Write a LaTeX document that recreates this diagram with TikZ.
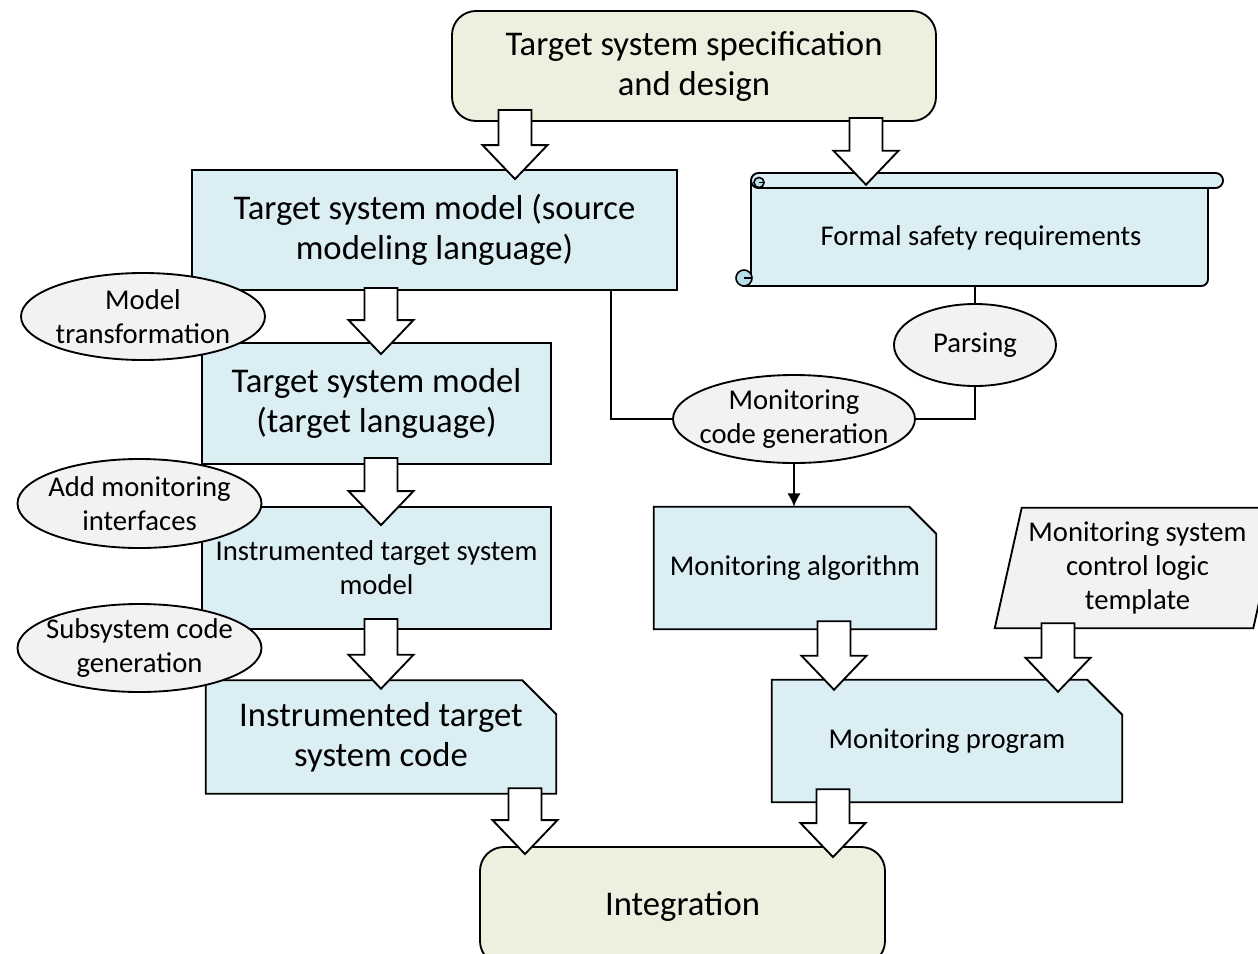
\documentclass[tikz,border=0pt]{standalone}
\usepackage{fontspec}
\setmainfont{Carlito}
\usetikzlibrary{shapes.geometric,calc,arrows.meta}
\pgfdeclarelayer{bg}
\pgfsetlayers{bg,main}
\definecolor{greenfill}{HTML}{EBF1DE}
\definecolor{bluefill}{HTML}{DAEEF3}
\definecolor{grayfill}{HTML}{F2F2F2}
\definecolor{curlfill}{HTML}{B7DDE8}
\newcommand\pu{0.75pt}
\newcommand\bigtxt{\fontsize{26pt}{30pt}\selectfont}
\newcommand\midtxt{\fontsize{21.5pt}{25.5pt}\selectfont}
% hollow block arrow pointing down
% #1 x position, #2 source node, #3 tail depth inside source,
% #4 target node, #5 tip depth inside target
\newcommand\blockarrow[5]{%
  \draw[barrow] let \p1=(#2.south), \p2=(#4.north), \p3=(#1,0),
      \n1={\y1+(#3)*\pu}, \n2={\y2-(#5)*\pu}, \n3={\y2-(#5)*\pu+34*\pu} in
    ({\x3-16.5*\pu},\n1) -- ({\x3+16.5*\pu},\n1)
    -- ({\x3+16.5*\pu},\n3) -- ({\x3+32.5*\pu},\n3)
    -- (\x3,\n2) -- ({\x3-32.5*\pu},\n3)
    -- ({\x3-16.5*\pu},\n3) -- cycle;}
\begin{document}
\begin{tikzpicture}[x=0.75pt, y=-0.75pt,
  outline/.style={line width=1.4pt, draw=black},
  greenbox/.style={outline, fill=greenfill, rounded corners=18pt, inner sep=0pt, align=center},
  bluebox/.style={outline, fill=bluefill, inner sep=0pt, align=center},
  textbox/.style={inner sep=0pt, align=center},
  procell/.style={ellipse, outline, fill=grayfill, inner sep=0pt},
  midlabel/.style={font=\midtxt, align=center, inner sep=0pt},
  conn/.style={line width=1.4pt},
  barrow/.style={outline, fill=white, line join=miter},
  curl/.style={line width=1.2pt, fill=curlfill}]
\useasboundingbox (0,0) rectangle (1258,954);

% process boxes
\node[greenbox, minimum width=484*\pu, minimum height=110*\pu, font=\bigtxt]
  (spec) at (694,66) {Target system specification\\and design};
\node[bluebox, minimum width=485*\pu, minimum height=120*\pu, font=\bigtxt]
  (srcmodel) at (434.5,230) {Target system model (source\\modeling language)};
\node[bluebox, minimum width=349*\pu, minimum height=121*\pu, font=\bigtxt]
  (tgtmodel) at (376.5,403.5) {Target system model\\(target language)};
\node[bluebox, minimum width=349*\pu, minimum height=122*\pu, font=\midtxt]
  (instmodel) at (376.5,568) {Instrumented target system\\model};
\node[textbox, minimum width=350*\pu, minimum height=113*\pu, font=\bigtxt]
  (instcode) at (381,737) {Instrumented target\\system code};
\node[textbox, minimum width=282*\pu, minimum height=122*\pu, font=\midtxt]
  (malg) at (795,568) {Monitoring algorithm};
\node[textbox, minimum width=350*\pu, minimum height=122*\pu, font=\midtxt]
  (mprog) at (947,741) {Monitoring program};
\node[textbox, minimum width=258*\pu, minimum height=120*\pu, font=\midtxt]
  (tmpl) at (1137.5,568) {Monitoring system\\control logic\\template};
\node[textbox, minimum width=458*\pu, minimum height=99*\pu, font=\midtxt]
  (fsr) at (981,237.5) {Formal safety requirements};
\node[greenbox, minimum width=405*\pu, minimum height=118*\pu, font=\bigtxt]
  (integ) at (682.5,906) {Integration};

% shapes drawn behind their texts
\begin{pgfonlayer}{bg}
  % scroll
  \draw[outline, fill=bluefill] (751,181) -- (751,278) -- (744,286)
    [rounded corners=5pt] -- (1208,286) -- (1208,181);
  \draw[outline, fill=bluefill, rounded corners=5.6pt] (751,173) rectangle (1223,188);
  \draw[curl] (759,182.5) circle[radius=3.8pt];
  \draw[line width=1.2pt] (759,182.5) -- (764,182.5);
  \draw[curl] (744,278) circle[radius=6pt];
  \draw[line width=1.2pt] (744,278) -- (751,278);
  % documents with a cut corner
  \foreach \n/\c in {instcode/34, malg/27, mprog/35}
    \draw[outline, fill=bluefill] (\n.south west) -- (\n.north west)
      -- ([xshift=-\c*\pu]\n.north east) -- ([yshift=-\c*\pu]\n.north east)
      -- (\n.south east) -- cycle;
  % template input
  \draw[outline, fill=grayfill] ([xshift=13.5*\pu]tmpl.north west)
    -- ([xshift=13.5*\pu]tmpl.north east) -- ([xshift=-13.5*\pu]tmpl.south east)
    -- ([xshift=-13.5*\pu]tmpl.south west) -- cycle;
\end{pgfonlayer}

% activities
\node[procell, minimum width=244*\pu, minimum height=87*\pu,
  label={[midlabel]center:{Model\\transformation}}] (mt) at (143,316.5) {};
\node[procell, minimum width=244*\pu, minimum height=89*\pu,
  label={[midlabel]center:{Add monitoring\\interfaces}}] (ami) at (139.5,503.5) {};
\node[procell, minimum width=244*\pu, minimum height=88*\pu,
  label={[midlabel]center:{Subsystem code\\generation}}] (scg) at (139.5,648) {};
\node[procell, minimum width=162*\pu, minimum height=82*\pu,
  label={[midlabel]center:{Parsing}}] (parse) at (975,345) {};
\node[procell, minimum width=242*\pu, minimum height=88*\pu,
  label={[midlabel]center:{Monitoring\\code generation}}] (mcg) at (794,419) {};

% connectors
\coordinate (j1) at (611,419);
\draw[conn] (srcmodel.south -| j1) -- (j1) -- (mcg.west);
\draw[conn] (fsr.south -| parse) -- (parse.north);
\draw[conn] (parse.south) |- (mcg.east);
\draw[conn, -{Latex[length=10pt,width=10pt]}] (mcg.south) -- (malg.north -| mcg.south);

% block arrows
\blockarrow{515}{spec}{12}{srcmodel}{10}
\blockarrow{866}{spec}{4}{fsr}{-3}
\blockarrow{381}{srcmodel}{3}{tgtmodel}{12}
\blockarrow{381}{tgtmodel}{7}{instmodel}{19}
\blockarrow{381}{instmodel}{11}{instcode}{8.5}
\blockarrow{525}{instcode}{5.5}{integ}{8}
\blockarrow{834}{malg}{8}{mprog}{10}
\blockarrow{1058}{tmpl}{5}{mprog}{12}
\blockarrow{833}{mprog}{13}{integ}{11}
\end{tikzpicture}
\end{document}
